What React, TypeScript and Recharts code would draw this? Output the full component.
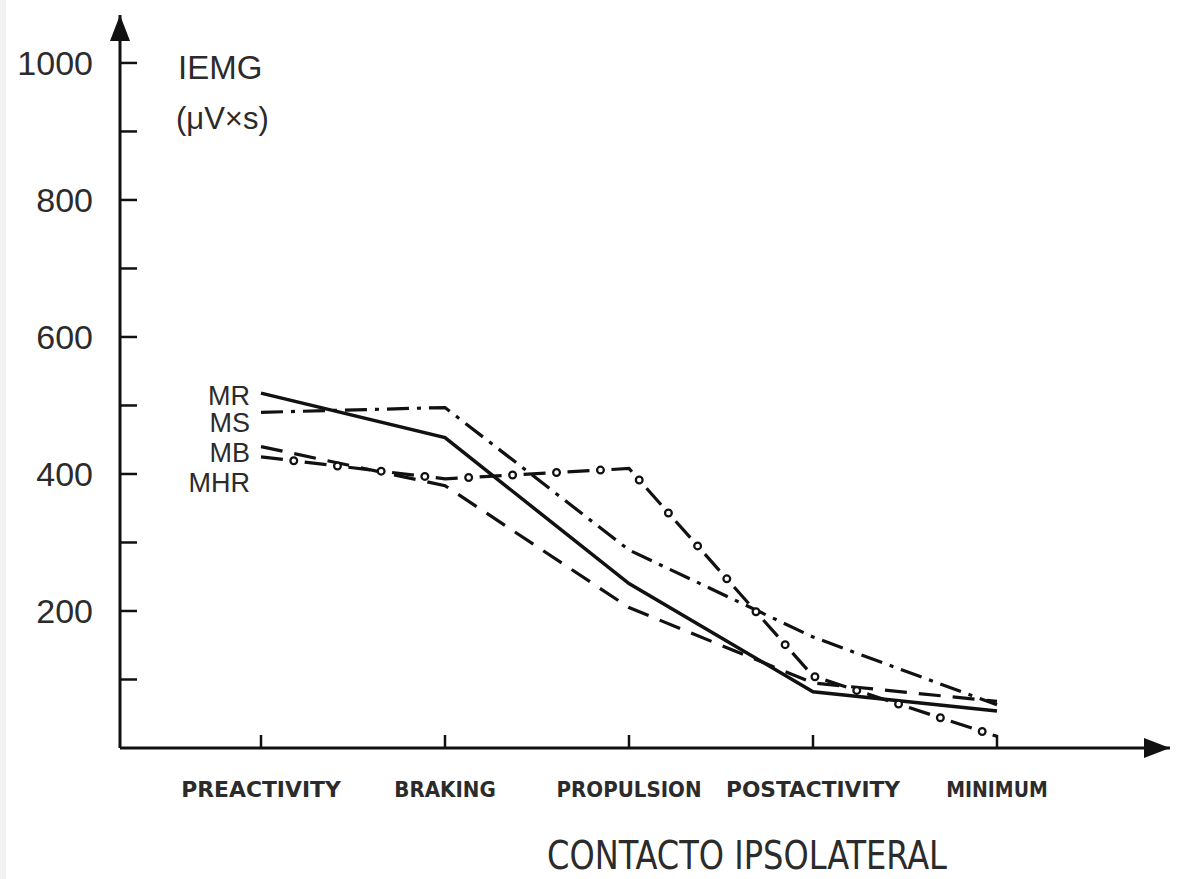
import React from 'react';
import { LineChart, Line, XAxis, YAxis } from 'recharts';

// ---- data ----
const categories = ['PREACTIVITY', 'BRAKING', 'PROPULSION', 'POSTACTIVITY', 'MINIMUM'];
const mrValues = [518, 453, 240, 82, 54];
const msValues = [490, 497, 289, 162, 63];
const mbValues = [440, 383, 205, 95, 68];
const mhrValues = [425, 393, 408, 105, 17];
const seriesNames = ['MR', 'MS', 'MB', 'MHR'];
const yTicks = [0, 100, 200, 300, 400, 500, 600, 700, 800, 900, 1000];
const yLabelTicks = [200, 400, 600, 800, 1000];
const yTitle = 'IEMG';
const yUnit = '(μV×s)';
const xTitle = 'CONTACTO IPSOLATERAL';

const data = categories.map((cat, i) => ({
  cat,
  mr: mrValues[i],
  ms: msValues[i],
  mb: mbValues[i],
  mhr: mhrValues[i],
}));

const INK = '#111';
const TEXT = '#2b2b2b';
const SANS = '"Liberation Sans", Arial, sans-serif';
const COND = '"DejaVu Sans Condensed", "Liberation Sans Narrow", "Liberation Sans", sans-serif';

const YTick = (props: any) => {
  const { x, y, payload } = props;
  const v = payload.value;
  const ax = x + 27;
  return (
    <g>
      {v !== 0 && <line x1={ax} x2={ax + 17} y1={y} y2={y} stroke={INK} strokeWidth={2.5} />}
      {yLabelTicks.includes(v) && (
        <text x={x} y={y} dy={12} textAnchor="end" fontSize={34} fill={TEXT} fontFamily={SANS}>
          {v}
        </text>
      )}
    </g>
  );
};

const XTick = (props: any) => {
  const { x, y, payload } = props;
  const label = String(payload.value);
  return (
    <g>
      <line x1={x} x2={x} y1={y} y2={y - 13} stroke={INK} strokeWidth={2.5} />
      <text
        x={x}
        y={y + 49}
        textAnchor="middle"
        fontSize={22}
        fontWeight="bold"
        fill={TEXT}
        fontFamily={COND}
        textLength={label.length * 14.5}
        lengthAdjust="spacingAndGlyphs"
      >
        {label}
      </text>
    </g>
  );
};

const YTitle = (props: any) => {
  const vb = props.viewBox || { x: 0, y: 15, width: 120, height: 733 };
  return (
    <g>
      <defs>
        <marker
          id="axisArrow"
          viewBox="0 0 26 20"
          refX={26}
          refY={10}
          markerWidth={26}
          markerHeight={20}
          markerUnits="userSpaceOnUse"
          orient="auto-start-reverse"
        >
          <path d="M0,0 L26,10 L0,20 z" fill={INK} />
        </marker>
      </defs>
      <text x={vb.x + vb.width + 58} y={vb.y + 64} fontSize={33} fill={TEXT} fontFamily={SANS}>
        {yTitle}
      </text>
      <text x={vb.x + vb.width + 56} y={vb.y + 114} fontSize={31} fill={TEXT} fontFamily={SANS}>
        {yUnit}
      </text>
    </g>
  );
};

const XTitle = (props: any) => {
  const vb = props.viewBox || { x: 120, y: 748, width: 1050, height: 131 };
  return (
    <text
      x={vb.x + 627}
      y={vb.y + 121}
      textAnchor="middle"
      fontSize={39}
      fill={TEXT}
      fontFamily={COND}
      textLength={400}
      lengthAdjust="spacingAndGlyphs"
    >
      {xTitle}
    </text>
  );
};

const makeSeriesLabel = (name: string, dy: number) => (props: any) => {
  const idx = props.index;
  if (idx !== 0) return null;
  const x = props.x ?? props.viewBox?.x;
  const y = props.y ?? props.viewBox?.y;
  return (
    <text x={x - 11} y={y + dy} textAnchor="end" fontSize={27} fill={TEXT} fontFamily={SANS}>
      {name}
    </text>
  );
};

export default function App() {
  return (
    <div
      style={{
        position: 'absolute',
        left: 0,
        top: 0,
        width: 1179,
        height: 879,
        background: 'linear-gradient(to right, #f2f2f2 6px, #ffffff 6px)',
      }}
    >
      <LineChart width={1179} height={879} data={data} margin={{ top: 15, right: 9, bottom: 0, left: 0 }}>
        <XAxis
          dataKey="cat"
          height={131}
          padding={{ left: 141, right: 173 }}
          tickSize={0}
          tickMargin={0}
          tick={XTick}
          interval={0}
          axisLine={{ stroke: INK, strokeWidth: 3, markerEnd: 'url(#axisArrow)' }}
          label={XTitle}
        />
        <YAxis
          width={120}
          type="number"
          domain={[0, 1070]}
          ticks={yTicks}
          tickSize={0}
          tickMargin={27}
          tick={YTick}
          interval={0}
          axisLine={{ stroke: INK, strokeWidth: 3, markerStart: 'url(#axisArrow)' }}
          label={YTitle}
        />
        <Line
          type="linear"
          dataKey="mr"
          name={seriesNames[0]}
          stroke={INK}
          strokeWidth={3.5}
          dot={false}
          activeDot={false}
          isAnimationActive={false}
          label={makeSeriesLabel(seriesNames[0], 12)}
        />
        <Line
          type="linear"
          dataKey="ms"
          name={seriesNames[1]}
          stroke={INK}
          strokeWidth={3.2}
          strokeDasharray="22 8 4 8"
          dot={false}
          activeDot={false}
          isAnimationActive={false}
          label={makeSeriesLabel(seriesNames[1], 20)}
        />
        <Line
          type="linear"
          dataKey="mb"
          name={seriesNames[2]}
          stroke={INK}
          strokeWidth={3.2}
          strokeDasharray="22 12"
          dot={false}
          activeDot={false}
          isAnimationActive={false}
          label={makeSeriesLabel(seriesNames[2], 15)}
        />
        <Line
          type="linear"
          dataKey="mhr"
          name={seriesNames[3]}
          stroke={INK}
          strokeWidth={3.2}
          strokeDasharray="22 22"
          dot={false}
          activeDot={false}
          isAnimationActive={false}
          label={makeSeriesLabel(seriesNames[3], 35)}
        />
        <Line
          type="linear"
          dataKey="mhr"
          legendType="none"
          stroke={INK}
          strokeWidth={9}
          strokeLinecap="round"
          strokeDasharray="0 44"
          strokeDashoffset={11}
          dot={false}
          activeDot={false}
          isAnimationActive={false}
        />
        <Line
          type="linear"
          dataKey="mhr"
          legendType="none"
          stroke="#ffffff"
          strokeWidth={4.5}
          strokeLinecap="round"
          strokeDasharray="0 44"
          strokeDashoffset={11}
          dot={false}
          activeDot={false}
          isAnimationActive={false}
        />
      </LineChart>
    </div>
  );
}
